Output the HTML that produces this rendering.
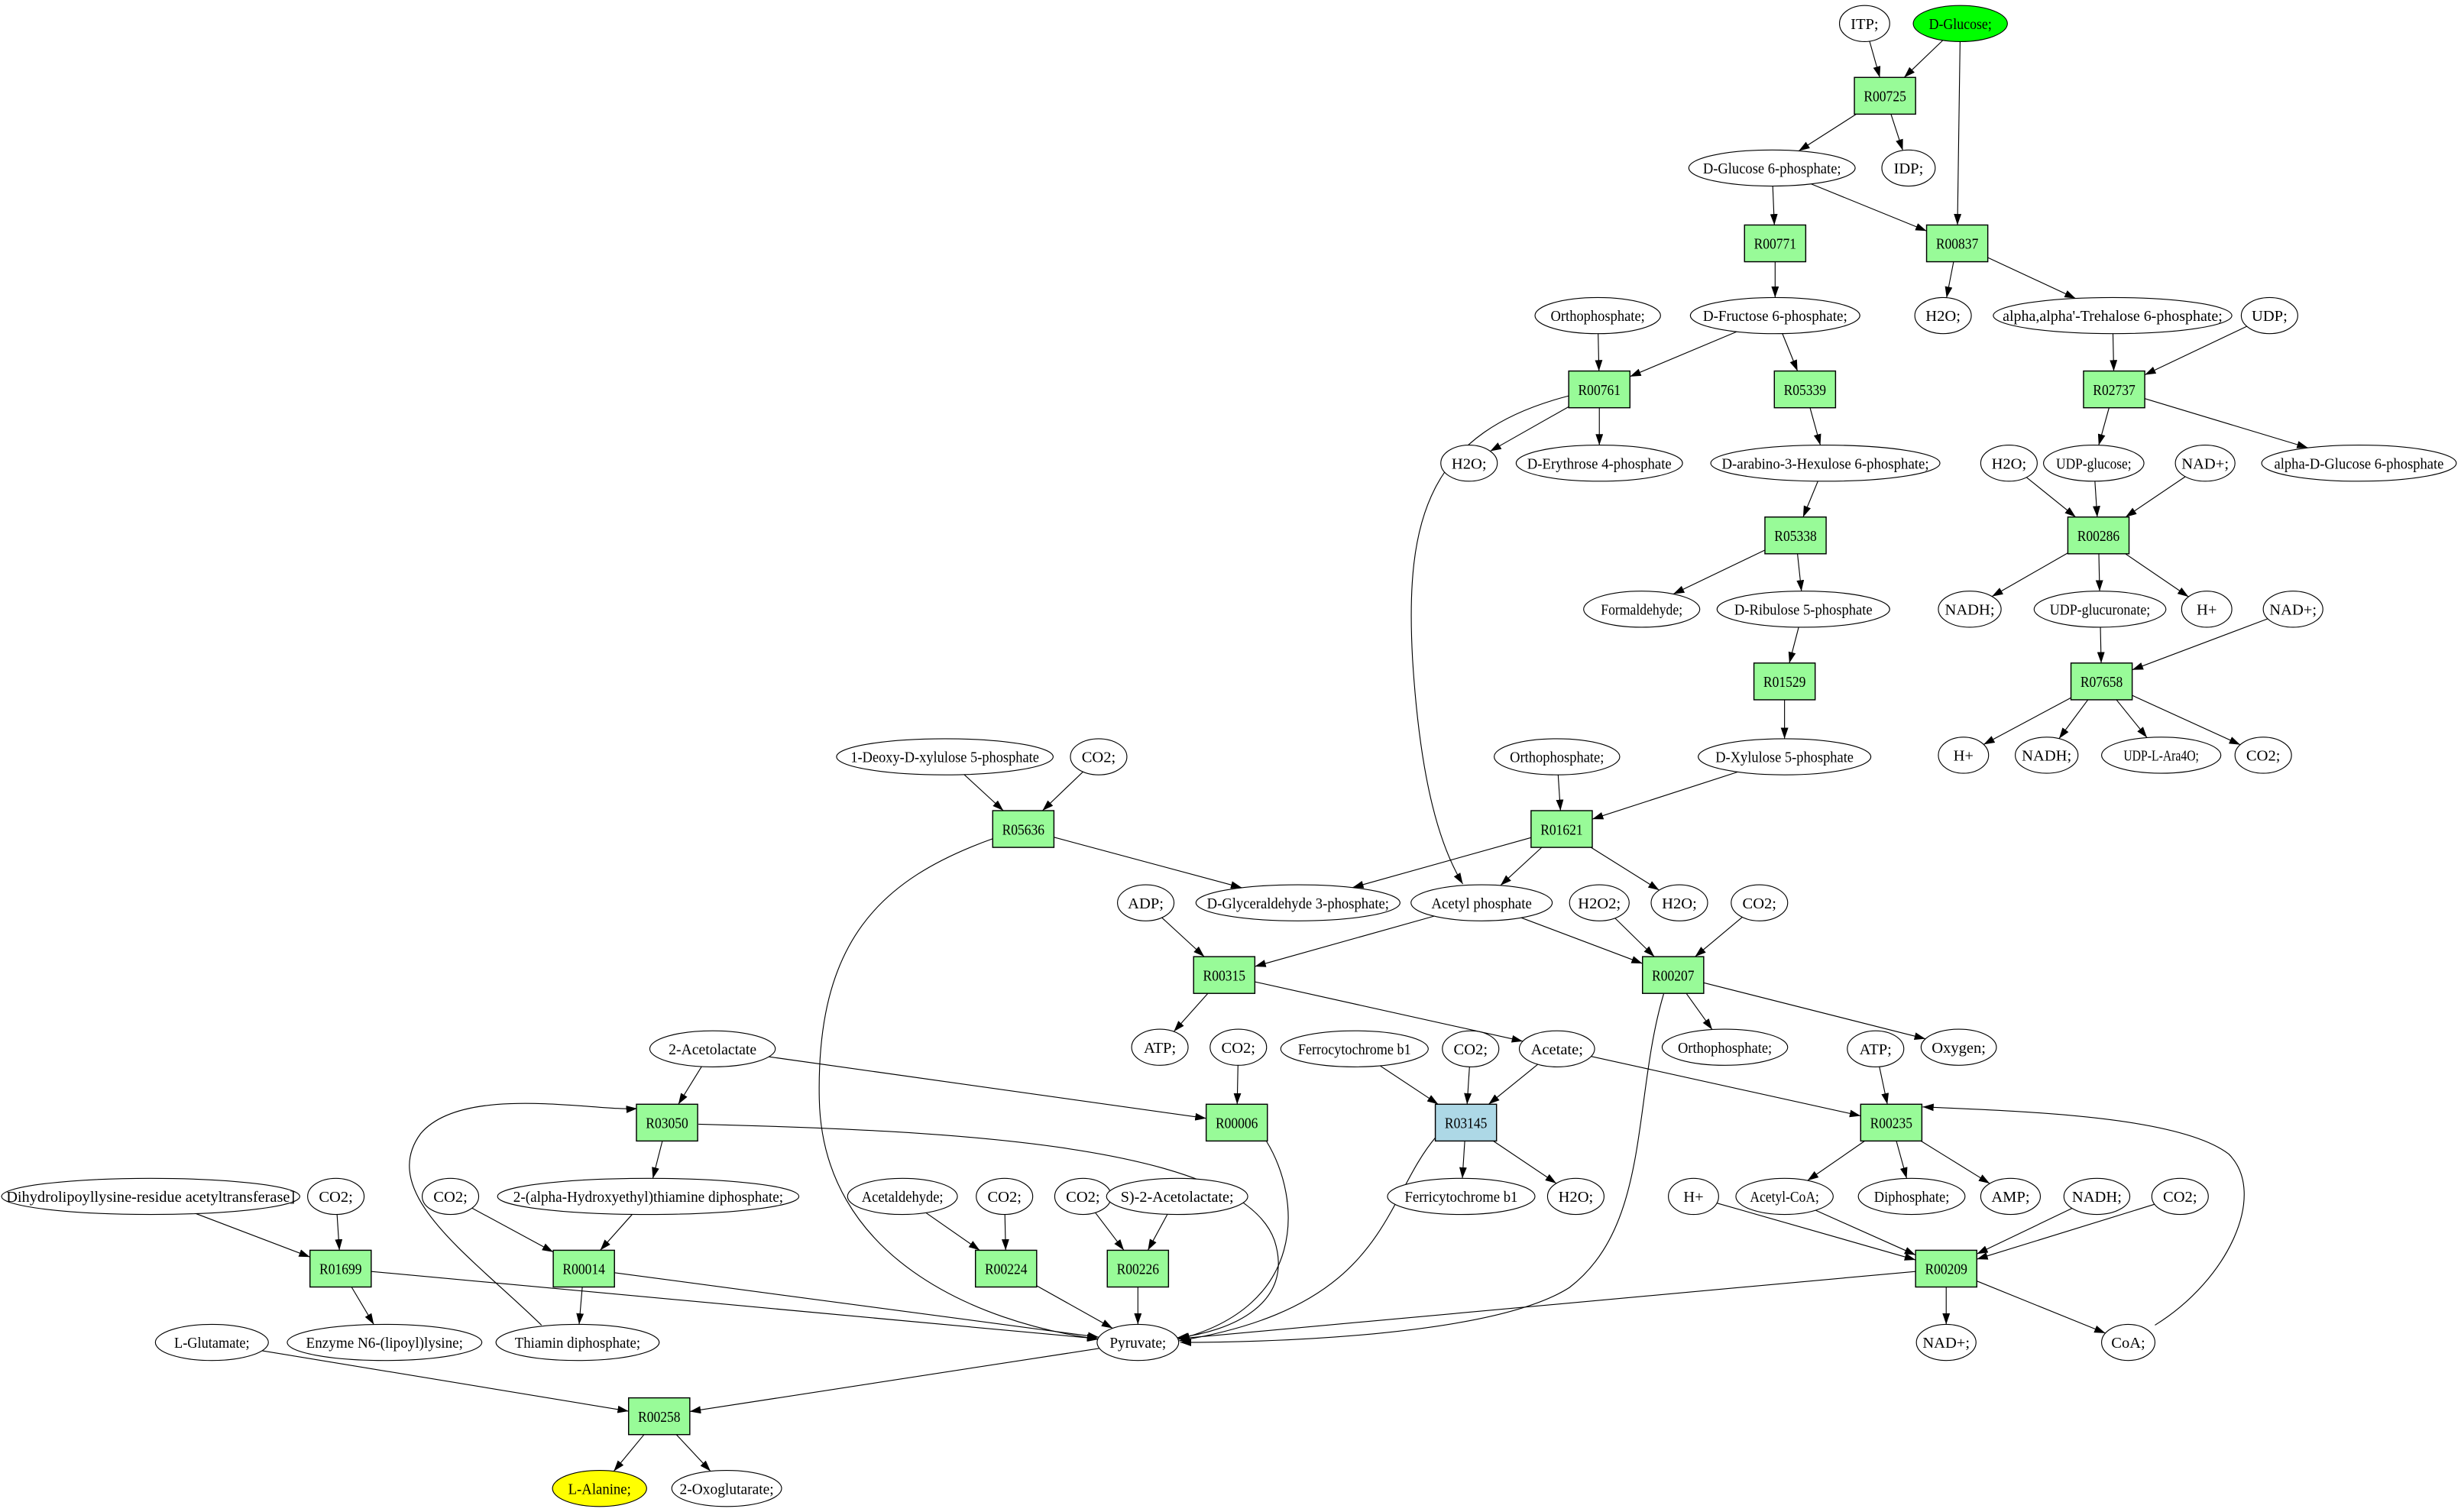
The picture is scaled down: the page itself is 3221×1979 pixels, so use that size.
<!DOCTYPE html>
<html><head><meta charset="utf-8">
<style>html,body{margin:0;padding:0;background:#fff;}svg{display:block;}</style>
</head><body>
<svg id="g" xmlns="http://www.w3.org/2000/svg" width="3221" height="1979" viewBox="0 0 1568 963" preserveAspectRatio="none">
<defs><marker id="a" markerUnits="userSpaceOnUse" markerWidth="8" markerHeight="6" refX="7" refY="2.4" orient="auto"><path d="M0,0 L7,2.4 L0,4.8 Z" fill="#000"/></marker></defs>
<g id="edges" fill="none" stroke="#000" stroke-width="0.55"></g>
<g id="nodes" font-family="Liberation Serif, serif" font-size="10" text-anchor="middle"></g>
</svg>
<script>
var N={
ITP:["ITP;",1188,15,16],GLC:["D-Glucose;",1249,15,30,"#00ff00"],R00725:["R00725",1201,61],
G6P:["D-Glucose 6-phosphate;",1129,107,53],IDP:["IDP;",1216,107,17],
R00771:["R00771",1131,155],R00837:["R00837",1247,155],
H2Oa:["H2O;",1238,201,18],TRE:["alpha,alpha'-Trehalose 6-phosphate;",1346,201,76],UDP:["UDP;",1446,201,18],
ORT1:["Orthophosphate;",1018,201,40],F6P:["D-Fructose 6-phosphate;",1131,201,54],
R00761:["R00761",1019,248],R05339:["R05339",1150,248],R02737:["R02737",1347,248],
H2Ob:["H2O;",936,295,18],E4P:["D-Erythrose 4-phosphate",1019,295,53],HEX:["D-arabino-3-Hexulose 6-phosphate;",1163,295,73],
H2Oc:["H2O;",1280,295,18],UDPG:["UDP-glucose;",1334,295,32],NAD1:["NAD+;",1405,295,19],AG6P:["alpha-D-Glucose 6-phosphate",1503,295,62],
R05338:["R05338",1144,341],R00286:["R00286",1337,341],
FOR:["Formaldehyde;",1046,388,37],RU5P:["D-Ribulose 5-phosphate",1149,388,55],
NADH1:["NADH;",1255,388,20],UDPGA:["UDP-glucuronate;",1338,388,42],HP1:["H+",1406,388,16],NAD2:["NAD+;",1461,388,19],
R01529:["R01529",1137,434],R07658:["R07658",1339,434],
DXP:["1-Deoxy-D-xylulose 5-phosphate",602,482,69],CO2b:["CO2;",700,482,18],ORT2:["Orthophosphate;",992,482,40],XU5P:["D-Xylulose 5-phosphate",1137,482,55],
HP2:["H+",1251,481,16],NADH2:["NADH;",1304,481,20],ARA:["UDP-L-Ara4O;",1377,481,38],CO2a:["CO2;",1442,481,18],
R05636:["R05636",652,528],R01621:["R01621",995,528],
ADP:["ADP;",730,575,18],GAP:["D-Glyceraldehyde 3-phosphate;",827,575,65],ACP:["Acetyl phosphate",944,575,45],
H2O2:["H2O2;",1019,575,19],H2Od:["H2O;",1070,575,18],CO2c:["CO2;",1121,575,18],
R00315:["R00315",780,621],R00207:["R00207",1066,621],
ATP1:["ATP;",739,667,18],CO2d:["CO2;",789,667,18],ORT3:["Orthophosphate;",1099,667,40],OXY:["Oxygen;",1248,667,24],
ACL:["2-Acetolactate",454,668,40],FERO:["Ferrocytochrome b1",863,668,47],CO2e:["CO2;",937,668,18],ACE:["Acetate;",992,668,24],ATP2:["ATP;",1195,668,18],
R03050:["R03050",425,715],R00006:["R00006",788,715],R03145:["R03145",934,715,0,"#add8e6"],R00235:["R00235",1205,715],
DLAT:["Dihydrolipoyllysine-residue acetyltransferase]",96,762,95],CO2f:["CO2;",214,762,18],CO2g:["CO2;",287,762,18],
HET:["2-(alpha-Hydroxyethyl)thiamine diphosphate;",413,762,96],ACA:["Acetaldehyde;",575,762,35],CO2h:["CO2;",640,762,18],
CO2i:["CO2;",690,762,18],SACL:["S)-2-Acetolactate;",750,762,45],FERI:["Ferricytochrome b1",931,762,47],H2Oe:["H2O;",1004,762,18],
HP3:["H+",1079,762,16],ACOA:["Acetyl-CoA;",1137,762,31],PPI:["Diphosphate;",1218,762,34],AMP:["AMP;",1281,762,19],NADH3:["NADH;",1336,762,21],CO2j:["CO2;",1389,762,18],
R01699:["R01699",217,808],R00014:["R00014",372,808],R00224:["R00224",641,808],R00226:["R00226",725,808],R00209:["R00209",1240,808],
GLU:["L-Glutamate;",135,855,36],ENZ:["Enzyme N6-(lipoyl)lysine;",245,855,62],THD:["Thiamin diphosphate;",368,855,52],PYR:["Pyruvate;",725,855,26],NAD3:["NAD+;",1240,855,19],COA:["CoA;",1356,855,17],
R00258:["R00258",420,902],ALA:["L-Alanine;",382,948,30,"#ffff00"],OG:["2-Oxoglutarate;",463,948,35]
};
var E="ITP R00725,GLC R00725,GLC R00837,R00725 G6P,R00725 IDP,G6P R00771,G6P R00837,R00771 F6P,R00837 H2Oa,R00837 TRE,TRE R02737,UDP R02737,ORT1 R00761,F6P R00761,F6P R05339,R00761 H2Ob,R00761 E4P,R05339 HEX,R02737 UDPG,R02737 AG6P,HEX R05338,H2Oc R00286,UDPG R00286,NAD1 R00286,R05338 FOR,R05338 RU5P,R00286 NADH1,R00286 UDPGA,R00286 HP1,RU5P R01529,UDPGA R07658,NAD2 R07658,R01529 XU5P,R07658 HP2,R07658 NADH2,R07658 ARA,R07658 CO2a,DXP R05636,CO2b R05636,XU5P R01621,ORT2 R01621,R05636 GAP,R01621 GAP,R01621 ACP,R01621 H2Od,ADP R00315,ACP R00315,ACP R00207,H2O2 R00207,CO2c R00207,R00315 ATP1,R00315 ACE,R00207 ORT3,R00207 OXY,ACL R03050,ACL R00006,CO2d R00006,FERO R03145,CO2e R03145,ACE R03145,ACE R00235,ATP2 R00235,R03050 HET,R03145 FERI,R03145 H2Oe,R00235 ACOA,R00235 PPI,R00235 AMP,DLAT R01699,CO2f R01699,CO2g R00014,HET R00014,ACA R00224,CO2h R00224,CO2i R00226,SACL R00226,HP3 R00209,ACOA R00209,NADH3 R00209,CO2j R00209,R01699 ENZ,R01699 PYR,R00014 THD,R00014 PYR,R00224 PYR,R00226 PYR,R00209 PYR,R00209 NAD3,R00209 COA,GLU R00258,PYR R00258,R00258 ALA,R00258 OG";
var C=["M1000,252 C910,275 895,330 900,420 C905,500 918,540 932,563",
"M633,534 C560,560 520,600 522,700 C524,800 620,842 700,853",
"M1060,633 C1040,700 1052,780 1000,820 C950,852 800,855 752,855",
"M445,716 C600,720 790,728 812,790 C825,830 785,848 750,852",
"M807,727 C830,765 832,832 751,853",
"M915,724 C880,765 885,832 751,854",
"M1373,844 C1420,815 1445,760 1420,735 C1390,712 1300,708 1225,705",
"M345,844 C300,800 240,760 268,722 C295,690 380,708 406,706"];
var ns="http://www.w3.org/2000/svg",eg=document.getElementById("edges"),ng=document.getElementById("nodes");
function mk(t,a,p){var e=document.createElementNS(ns,t);for(var k in a)e.setAttribute(k,a[k]);p.appendChild(e);return e;}
function isR(d){return /^R\d/.test(d[0]);}
function clip(n,dx,dy){var d=N[n];if(isR(d)){return Math.min(19.5/Math.abs(dx||1e-9),11.7/Math.abs(dy||1e-9));}var rx=d[3],ry=11.5;return 1/Math.sqrt(dx*dx/(rx*rx)+dy*dy/(ry*ry));}
E.split(",").forEach(function(s){var p=s.split(" "),a=N[p[0]],b=N[p[1]];var dx=b[1]-a[1],dy=b[2]-a[2];var t1=clip(p[0],dx,dy),t2=clip(p[1],-dx,-dy);
mk("line",{x1:a[1]+dx*t1,y1:a[2]+dy*t1,x2:b[1]-dx*t2,y2:b[2]-dy*t2,"marker-end":"url(#a)"},eg);});
C.forEach(function(d){mk("path",{d:d,"marker-end":"url(#a)"},eg);});
for(var k in N){var d=N[k];var r=isR(d);
if(r)mk("rect",{x:d[1]-19.5,y:d[2]-11.7,width:39,height:23.4,fill:d[4]||"#98fb98",stroke:"#000","stroke-width":0.7},ng);
else mk("ellipse",{cx:d[1],cy:d[2],rx:d[3],ry:11.5,fill:d[4]||"#fff",stroke:"#000","stroke-width":0.55},ng);
var t=mk("text",{x:d[1],y:d[2]+3.5},ng);t.textContent=d[0];
var w=null;if(r)w=27;else if(d[0].length>8)w=Math.min(d[0].length*4.0,d[3]*2-6);
if(w){t.setAttribute("textLength",w);t.setAttribute("lengthAdjust","spacingAndGlyphs");}}
</script>
</body></html>
